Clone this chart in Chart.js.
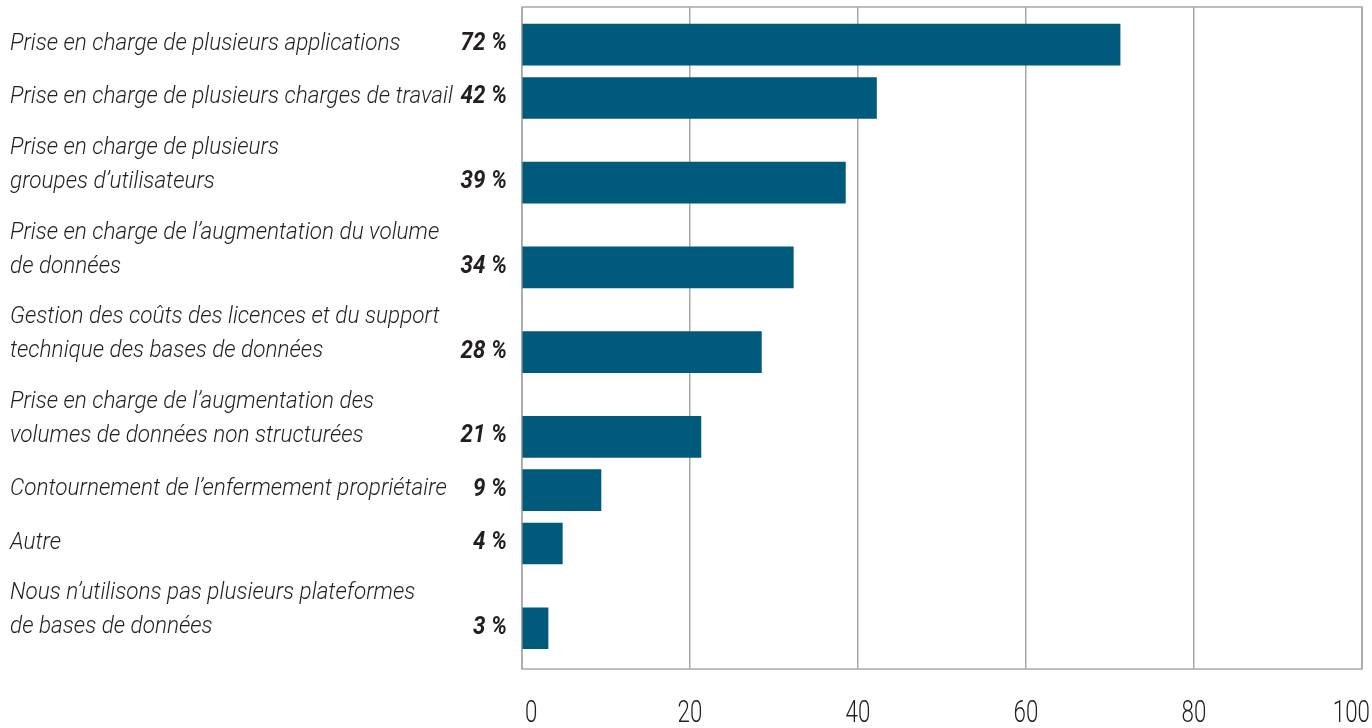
<!DOCTYPE html>
<html lang="fr">
<head>
<meta charset="utf-8">
<title>Plateformes de bases de données</title>
<script src="https://cdn.jsdelivr.net/npm/chart.js@4/dist/chart.umd.min.js"></script>
<style>
    html, body { margin: 0; padding: 0; background: #ffffff; overflow: hidden; }
    canvas { display: block; }
</style>
</head>
<body>
<canvas id="chart" width="1372" height="728"></canvas>
<script>
// Chart data
const categories = [
    ['Prise en charge de plusieurs applications'],
    ['Prise en charge de plusieurs charges de travail'],
    ['Prise en charge de plusieurs', 'groupes d’utilisateurs'],
    ['Prise en charge de l’augmentation du volume', 'de données'],
    ['Gestion des coûts des licences et du support', 'technique des bases de données'],
    ['Prise en charge de l’augmentation des', 'volumes de données non structurées'],
    ['Contournement de l’enfermement propriétaire'],
    ['Autre'],
    ['Nous n’utilisons pas plusieurs plateformes', 'de bases de données']
];
const values = [71.2, 42.2, 38.5, 32.3, 28.5, 21.3, 9.4, 4.8, 3.1];
const valueLabels = ['72 %', '42 %', '39 %', '34 %', '28 %', '21 %', '9 %', '4 %', '3 %'];
const xTicks = [0, 20, 40, 60, 80, 100];

(function() {
    'use strict';

    const FONT = "Roboto, 'Liberation Sans', sans-serif";
    const colors = {
        bar: '#005a7b',
        grid: '#a8a8a8',
        text: '#231f20'
    };

    // Rows with a two-line label get more room above them
    const positions = [];
    categories.forEach((lines, i) => {
        positions.push(i === 0 ? 0 : positions[i - 1] + lines.length + 0.7);
    });

    /**
     * Draw text squeezed horizontally (the reference uses a condensed face)
     */
    const narrowText = (ctx, text, x, y, squeeze) => {
        ctx.save();
        ctx.translate(x, y);
        ctx.scale(squeeze, 1);
        ctx.fillText(text, 0, 0);
        ctx.restore();
    };

    /**
     * Frame around the plot area
     */
    const framePlugin = {
        id: 'frame',
        beforeDatasetsDraw(chart) {
            const { ctx, chartArea } = chart;
            ctx.save();
            ctx.strokeStyle = colors.grid;
            ctx.lineWidth = 1.5;
            ctx.strokeRect(chartArea.left, chartArea.top,
                chartArea.right - chartArea.left, chartArea.bottom - chartArea.top);
            ctx.restore();
        }
    };

    /**
     * Category labels and percentages, last line aligned on the bar,
     * plus the x tick labels
     */
    const labelPlugin = {
        id: 'rowLabels',
        afterDatasetsDraw(chart) {
            const { ctx, chartArea } = chart;
            const meta = chart.getDatasetMeta(0);
            ctx.save();
            ctx.fillStyle = colors.text;
            ctx.textBaseline = 'middle';
            meta.data.forEach((bar, i) => {
                const lines = categories[i];
                const y = bar.y - 1;
                ctx.font = 'italic 300 24.5px ' + FONT;
                ctx.textAlign = 'left';
                lines.forEach((line, j) => {
                    narrowText(ctx, line, 10, y - (lines.length - 1 - j) * 34, 0.92);
                });
                ctx.font = 'italic bold 26px ' + FONT;
                ctx.textAlign = 'right';
                narrowText(ctx, valueLabels[i], 507, y, 0.86);
            });

            const xScale = chart.scales.x;
            const squeeze = 0.72;
            ctx.font = '300 31px ' + FONT;
            ctx.textAlign = 'center';
            xTicks.forEach(v => {
                const text = String(v);
                const w = ctx.measureText(text).width * squeeze;
                let x = xScale.getPixelForValue(v);
                x = Math.max(x, chartArea.left + w / 2 + 3);
                x = Math.min(x, chart.width - w / 2 - 2);
                narrowText(ctx, text, x, 714, squeeze);
            });
            ctx.restore();
        }
    };

    const ctx = document.getElementById('chart').getContext('2d');

    new Chart(ctx, {
        type: 'bar',
        data: {
            datasets: [{
                data: values.map((v, i) => ({ x: v, y: positions[i] })),
                backgroundColor: colors.bar,
                borderWidth: 0,
                barThickness: 41
            }]
        },
        options: {
            indexAxis: 'y',
            responsive: false,
            animation: false,
            layout: {
                padding: { left: 522, right: 10, top: 7, bottom: 59 }
            },
            plugins: {
                legend: { display: false },
                tooltip: { enabled: false }
            },
            scales: {
                x: {
                    type: 'linear',
                    min: xTicks[0],
                    max: xTicks[xTicks.length - 1],
                    afterBuildTicks: (axis) => {
                        axis.ticks = xTicks.map(v => ({ value: v }));
                    },
                    grid: {
                        color: colors.grid,
                        lineWidth: 1.5,
                        drawTicks: false
                    },
                    border: { display: false },
                    ticks: { display: false }
                },
                y: {
                    type: 'linear',
                    reverse: true,
                    display: false,
                    offset: false,
                    min: positions[0] - 1.2,
                    max: positions[positions.length - 1] + 1.3
                }
            }
        },
        plugins: [framePlugin, labelPlugin]
    });
})();
</script>
</body>
</html>
